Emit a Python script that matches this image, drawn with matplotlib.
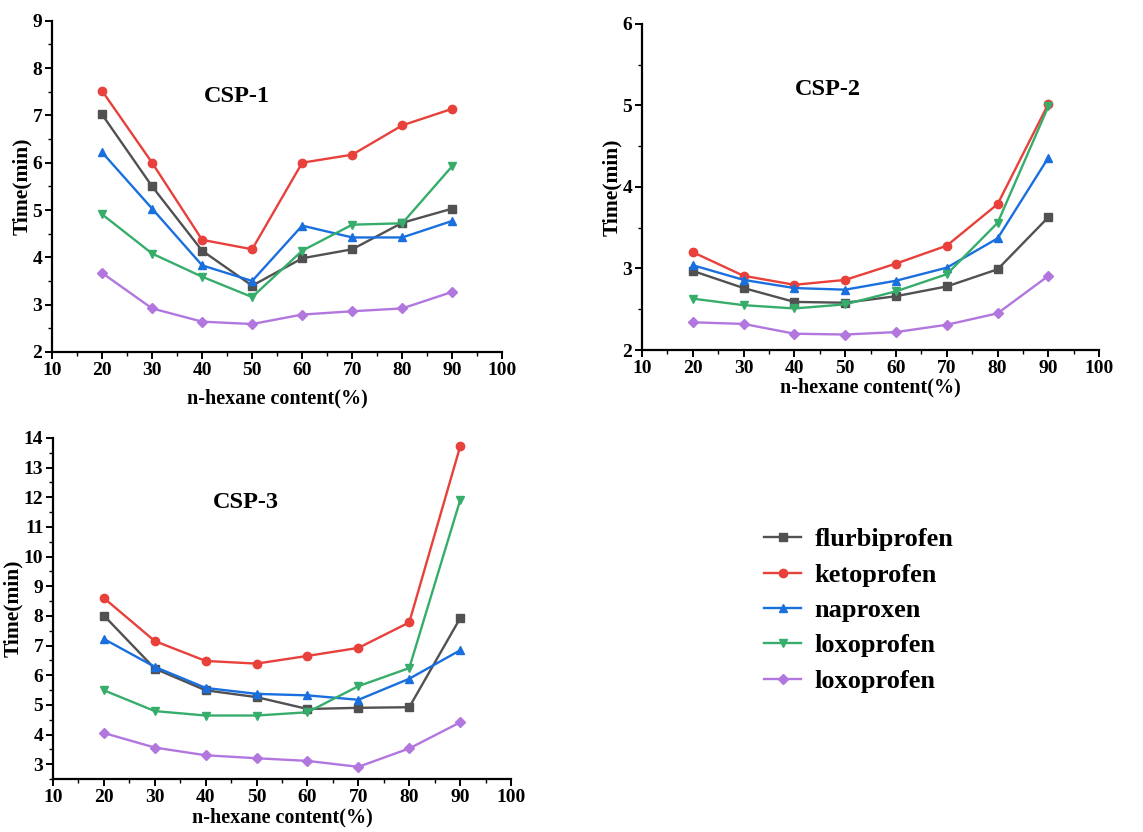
import numpy as np
import matplotlib
matplotlib.use('Agg')
import matplotlib.pyplot as plt
from matplotlib.ticker import MultipleLocator

plt.rcParams['font.family'] = ['Liberation Serif', 'DejaVu Serif']
plt.rcParams['font.weight'] = 'bold'

# --- data ---
hexane = [20, 30, 40, 50, 60, 70, 80, 90]
names = ['flurbiprofen', 'ketoprofen', 'naproxen', 'loxoprofen', 'loxoprofen']

csp1_flurbiprofen = [7.02, 5.50, 4.14, 3.40, 3.98, 4.17, 4.73, 5.03]
csp1_ketoprofen = [7.52, 6.00, 4.37, 4.17, 6.00, 6.17, 6.79, 7.14]
csp1_naproxen = [6.22, 5.03, 3.83, 3.50, 4.67, 4.42, 4.42, 4.77]
csp1_loxoprofen = [4.91, 4.08, 3.59, 3.16, 4.14, 4.69, 4.72, 5.93]
csp1_loxoprofen_b = [3.67, 2.92, 2.64, 2.59, 2.79, 2.86, 2.92, 3.27]

csp2_flurbiprofen = [2.97, 2.76, 2.59, 2.58, 2.66, 2.78, 2.99, 3.63]
csp2_ketoprofen = [3.20, 2.91, 2.80, 2.86, 3.06, 3.28, 3.79, 5.02]
csp2_naproxen = [3.04, 2.86, 2.76, 2.74, 2.85, 3.01, 3.37, 4.36]
csp2_loxoprofen = [2.63, 2.55, 2.51, 2.56, 2.72, 2.93, 3.56, 4.99]
csp2_loxoprofen_b = [2.34, 2.32, 2.20, 2.19, 2.22, 2.31, 2.45, 2.91]

csp3_flurbiprofen = [8.01, 6.22, 5.49, 5.26, 4.86, 4.90, 4.92, 7.92]
csp3_ketoprofen = [8.60, 7.15, 6.48, 6.39, 6.65, 6.92, 7.78, 13.71]
csp3_naproxen = [7.22, 6.28, 5.57, 5.37, 5.32, 5.17, 5.88, 6.84]
csp3_loxoprofen = [5.49, 4.79, 4.64, 4.64, 4.75, 5.63, 6.24, 11.90]
csp3_loxoprofen_b = [4.05, 3.56, 3.30, 3.20, 3.11, 2.91, 3.53, 4.41]

colors = ['#515151', '#E8403A', '#1A6FDF', '#37AD6B', '#B177DE']
markers = ['s', 'o', '^', 'v', 'D']

# title, series, axes rect, ylim, title position, xlabel pad
panels = [
    ('CSP-1', [csp1_flurbiprofen, csp1_ketoprofen, csp1_naproxen, csp1_loxoprofen, csp1_loxoprofen_b],
     [0.0455, 0.577, 0.394, 0.398], (2, 9), (0.41, 0.77), 7),
    ('CSP-2', [csp2_flurbiprofen, csp2_ketoprofen, csp2_naproxen, csp2_loxoprofen, csp2_loxoprofen_b],
     [0.5617, 0.5793, 0.400, 0.392], (2, 6), (0.407, 0.80), 0.5),
    ('CSP-3', [csp3_flurbiprofen, csp3_ketoprofen, csp3_naproxen, csp3_loxoprofen, csp3_loxoprofen_b],
     [0.0464, 0.0637, 0.4007, 0.41], (2.5, 14), (0.42, 0.81), 1),
]

fig = plt.figure(figsize=(11.43, 8.32), dpi=100)

handles = []
for title, series, rect, ylim, tpos, xpad in panels:
    ax = fig.add_axes(rect)
    lines = []
    for vals, c, m, n in zip(series, colors, markers, names):
        ln, = ax.plot(hexane, vals, color=c, marker=m, markersize=6 if m != 'D' else 5,
                      linewidth=1.7, label=n)
        lines.append(ln)
    handles = lines
    ax.set_xlim(10, 100)
    ax.set_ylim(*ylim)
    ax.xaxis.set_major_locator(MultipleLocator(10))
    ax.xaxis.set_minor_locator(MultipleLocator(5))
    ax.yaxis.set_major_locator(MultipleLocator(1))
    ax.yaxis.set_minor_locator(MultipleLocator(0.5))
    for s in ['top', 'right']:
        ax.spines[s].set_visible(False)
    for s in ['left', 'bottom']:
        ax.spines[s].set_linewidth(1.6)
    ax.tick_params(which='major', direction='out', length=5, width=1.4, labelsize=14, pad=2)
    ax.tick_params(which='minor', direction='out', length=3, width=1.0)
    for lab in ax.get_xticklabels() + ax.get_yticklabels():
        lab.set_fontweight('bold')
    ax.set_xlabel('n-hexane content(%)', fontsize=14.5, fontweight='bold', labelpad=xpad)
    ax.set_ylabel('Time(min)', fontsize=15.5, fontweight='bold', labelpad=0.5)
    ax.text(tpos[0], tpos[1], title, transform=ax.transAxes, ha='center', va='center',
            fontsize=17.5, fontweight='bold')

fig.legend(handles, names, loc='upper left', bbox_to_anchor=(0.648, 0.394),
           frameon=False, handlelength=1.4, handletextpad=0.5,
           labelspacing=0.45, prop={'weight': 'bold', 'size': 19})

fig.savefig('out.png', dpi=100)
